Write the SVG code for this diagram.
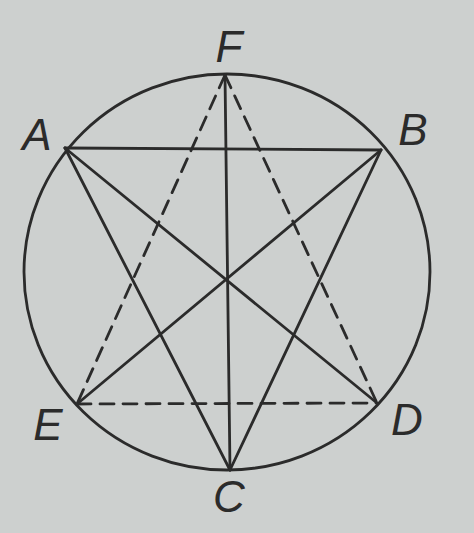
<svg xmlns="http://www.w3.org/2000/svg" width="474" height="533" viewBox="0 0 474 533">
<style>
.s{stroke:#2b2b2b;stroke-width:2.8;fill:none;stroke-linecap:round}
.d{stroke-dasharray:14 9}
.t{font-family:"Liberation Sans",Arial,sans-serif;font-size:44px;font-style:italic;fill:#2b2b2b;text-anchor:middle}
</style>
<rect width="474" height="533" fill="#cdd0cf"/>
<g id="circle"><ellipse class="s" cx="227" cy="272" rx="203" ry="198"/></g>
<g id="connectors">
<line class="s" x1="65" y1="148" x2="381" y2="150"/>
<line class="s" x1="65" y1="148" x2="377" y2="403"/>
<line class="s" x1="65" y1="148" x2="230" y2="470"/>
<line class="s" x1="381" y1="150" x2="77" y2="404"/>
<line class="s" x1="381" y1="150" x2="230" y2="470"/>
<line class="s" x1="225" y1="75" x2="230" y2="470"/>
<line class="s d" x1="225" y1="75" x2="77" y2="404"/>
<line class="s d" x1="225" y1="75" x2="377" y2="403"/>
<line class="s d" x1="77" y1="404" x2="377" y2="403"/>
</g>
<g id="F"><text class="t" x="229" y="62">F</text></g>
<g id="A"><text class="t" x="37" y="150">A</text></g>
<g id="B"><text class="t" x="413" y="145">B</text></g>
<g id="E"><text class="t" x="48" y="440">E</text></g>
<g id="D"><text class="t" x="407" y="435">D</text></g>
<g id="C"><text class="t" x="229" y="512">C</text></g>
</svg>
